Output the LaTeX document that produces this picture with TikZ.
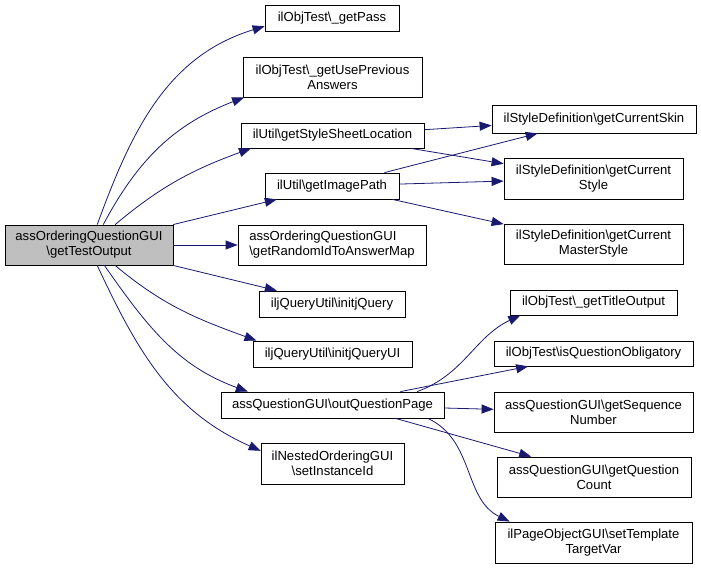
\documentclass[tikz,border=0pt]{standalone}
\usepackage{fontspec}
\setmainfont{Liberation Sans}
\usetikzlibrary{arrows.meta}
\definecolor{callblue}{RGB}{25,25,112}
\definecolor{mainfill}{RGB}{191,191,191}
\newcommand{\bs}{\textbackslash}
\tikzset{
  fn/.style={draw, line width=0.8pt, inner sep=1pt, minimum height=26pt,
    font=\fontsize{13.1}{14.8}\selectfont, align=center},
  fntwo/.style={fn, minimum height=40pt},
  call/.style={draw=callblue, line width=0.8pt, -{Triangle[length=12pt,width=9pt]}}
}
\begin{document}
\begin{tikzpicture}[x=1pt,y=1pt]
        \useasboundingbox (0,0) rectangle (701,-569);

        % caller
        \node[fntwo, fill=mainfill, minimum width=168pt] (main) at (89,-245) {assOrderingQuestionGUI\\\bs getTestOutput};

        % first column of callees
        \node[fn, minimum width=134pt] (getpass) at (332,-18) {ilObjTest\bs\_getPass};
        \node[fntwo, minimum width=179pt] (getuse) at (332.5,-77) {ilObjTest\bs\_getUsePrevious\\Answers};
        \node[fn, minimum width=183pt, minimum height=25pt] (sheetloc) at (332.5,-135.5) {ilUtil\bs getStyleSheetLocation};
        \node[fn, minimum width=134pt] (imgpath) at (332,-186) {ilUtil\bs getImagePath};
        \node[fntwo, minimum width=188pt, align=left] (randmap) at (332,-245) {assOrderingQuestionGUI\\\bs getRandomIdToAnswerMap};
        \node[fn, minimum width=146pt] (initjq) at (332,-304) {iljQueryUtil\bs initjQuery};
        \node[fn, minimum width=159pt] (initjqui) at (332.5,-354) {iljQueryUtil\bs initjQueryUI};
        \node[fn, minimum width=223pt] (outqpage) at (332.5,-405) {assQuestionGUI\bs outQuestionPage};
        \node[fntwo, minimum width=143pt, minimum height=41pt] (setinst) at (332.5,-463.5) {ilNestedOrderingGUI\\\bs setInstanceId};

        % second column of callees
        \node[fn, minimum width=204pt, minimum height=28pt] (curskin) at (594,-119) {ilStyleDefinition\bs getCurrentSkin};
        \node[fntwo, minimum width=179pt, minimum height=41pt] (curstyle) at (593.5,-178.5) {ilStyleDefinition\bs getCurrent\\Style};
        \node[fntwo, minimum width=179pt] (curmaster) at (593.5,-244) {ilStyleDefinition\bs getCurrent\\MasterStyle};
        \node[fn, minimum width=167pt, minimum height=25pt] (titleout) at (593.5,-302.5) {ilObjTest\bs\_getTitleOutput};
        \node[fn, minimum width=199pt, minimum height=25pt] (oblig) at (593.5,-353.5) {ilObjTest\bs isQuestionObligatory};
        \node[fntwo, minimum width=199pt] (seqnum) at (593.5,-412) {assQuestionGUI\bs getSequence\\Number};
        \node[fntwo, minimum width=194pt] (qcount) at (594,-477) {assQuestionGUI\bs getQuestion\\Count};
        \node[fntwo, minimum width=197pt, minimum height=41pt] (tmplvar) at (593.5,-542.5) {ilPageObjectGUI\bs setTemplate\\TargetVar};

        % calls from the caller
        \draw[call] (main.68) to[out=70,in=197] (getpass.187);
        \draw[call] (main.55) to[out=62,in=201] (getuse.193);
        \draw[call] (main.38) to[out=40,in=200] (sheetloc.189);
        \draw[call] (main) -- (imgpath);
        \draw[call] (main) -- (randmap);
        \draw[call] (main) -- (initjq);
        \draw[call] (main.-38) to[out=-40,in=160] (initjqui.170);
        \draw[call] (main.-53) to[out=-55,in=160] (outqpage.171);
        \draw[call] (main.-68) to[out=-65,in=156] (setinst.170);

        % calls from the first column
        \draw[call] (sheetloc) -- (curskin);
        \draw[call] (sheetloc) -- (curstyle);
        \draw[call] (imgpath) -- (curskin);
        \draw[call] (imgpath) -- (curstyle);
        \draw[call] (imgpath) -- (curmaster);
        \draw[call] (outqpage.9) to[out=20,in=205] (titleout.190);
        \draw[call] (outqpage) -- (oblig);
        \draw[call] (outqpage) -- (seqnum);
        \draw[call] (outqpage.-12) -- (qcount.162);
        \draw[call] (outqpage.-8) to[out=-25,in=154] (tmplvar.166);
    \end{tikzpicture}
\end{document}
